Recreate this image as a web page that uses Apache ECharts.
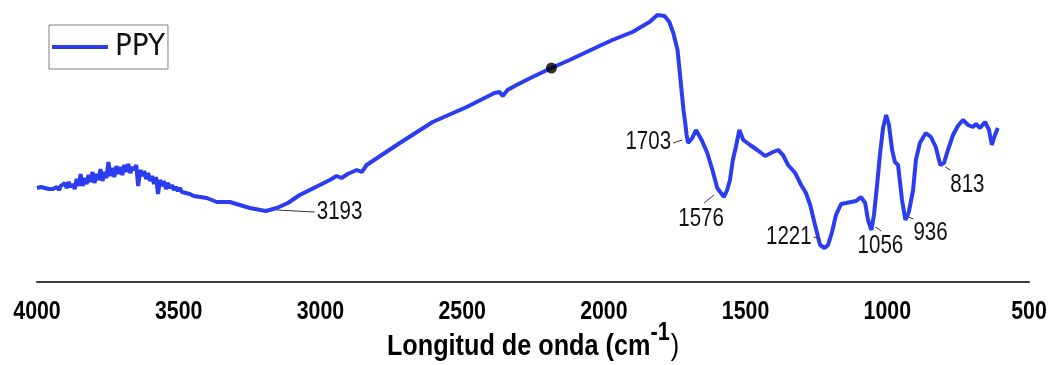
<!DOCTYPE html>
<html>
<head>
<meta charset="utf-8">
<script src="https://cdn.jsdelivr.net/npm/echarts@6/dist/echarts.min.js"></script>
<style>
html,body{margin:0;padding:0;background:#fff;}
#chart{width:1048px;height:365px;}
</style>
</head>
<body>
<div id="chart"></div>
<script>
// Wavenumber (cm-1) and transmittance (arbitrary %)
const wavenumbers = [4000,3993,3986,3979,3972,3965,3958,3951,3944,3937,3930,3923,3916,3909,3902,3895,3888,3881,3874,3867,3860,3853,3846,3839,3832,3825,3818,3811,3804,3797,3790,3783,3776,3769,3762,3755,3748,3741,3734,3727,3720,3713,3706,3699,3692,3685,3678,3671,3664,3657,3650,3643,3636,3629,3622,3615,3608,3601,3594,3587,3580,3573,3566,3559,3552,3545,3538,3531,3524,3517,3510,3503,3496,3489,3482,3475,3468,3461,3454,3447,3440,3401,3366,3320,3249,3193,3154,3115,3073,3002,2967,2943,2925,2904,2872,2854,2837,2720,2604,2484,2386,2368,2357,2340,2308,2252,2185,2121,2016,1970,1899,1839,1811,1786,1769,1755,1740,1733,1726,1719,1712,1708,1703,1688,1675,1655,1635,1617,1600,1576,1565,1555,1545,1535,1522,1508,1484,1459,1431,1403,1385,1368,1350,1325,1304,1287,1272,1255,1237,1221,1209,1195,1181,1163,1145,1128,1110,1093,1078,1068,1056,1047,1036,1026,1015,1004,994,983,973,962,948,936,924,909,899,885,864,846,829,813,800,786,768,751,733,715,698,687,673,655,641,631,620,610];
const transmittance = [47,46.5,47.5,46.5,47,46,46.5,45.5,46.5,45.5,47.5,46,48,47,49.5,47,50,47.5,49,46.5,51.5,48,54,48,52,49,53.5,50,55,49.5,54,51,56.5,50.5,55,52,60,53,57,52.5,58,54,57.5,53.5,58.5,55,59,54.5,57.5,56,58.5,48,56,53,55.5,51.5,54.5,50.5,53,49,52.5,44,51,48,50.5,46.5,49.5,47,48.5,46,47.5,45.5,47,45,46,44.5,45.5,44,44.5,43,43.5,42,40,40,37,35.5,37,39.5,43.5,48.5,51,53,52,54,56,55,58.5,69.5,80,87.5,94.5,95,93,96,98.5,102.5,107,111,118,121,125,130,133.5,133,130,124.5,116,106,96,86,78.5,73.5,69.5,72,76,71,64.5,56,47,42.5,46,51,61,67,76,71,68.5,66,63,65,66,63.5,58.5,54.5,48.5,44.5,38.5,28.5,18.5,17,18.5,25,33.5,39,39.5,40,40.5,42.5,39.5,31,26,33.5,48.5,63.5,77,83.5,78.5,66,60,58.5,41,31,35,46,61,69.5,74.5,72.5,67.5,58.5,59.5,66,73.5,78,81,78.5,77.5,79,77,80,76,68.5,73.5,77];
const peakLabels = [3193,1703,1576,1221,1056,936,813];
const markerPoint = [[2185,107]];
const xTicks = [4000,3500,3000,2500,2000,1500,1000,500];
const seriesName = 'PPY';
const axisTitle = ['Longitud de onda (cm', '-1', ')'];

const spectrum = wavenumbers.map((w,i)=>[w,transmittance[i]]);
const peakData = peakLabels.map(w=>[w, transmittance[wavenumbers.indexOf(w)]]);
const tickData = xTicks.map(v=>[v,0]);

// label placement relative to the peak (pixels): line [x1,y1,x2,y2], text [x,y,align]
const annotStyle = {
  3193:{line:[11,-1,49,1], text:[51,1,'left']},
  1703:{line:[-15,0,-6,-3], text:[-17,-1,'right']},
  1576:{line:[-20,6,-10,-2], text:[-23,22,'center']},
  1221:{line:[-11,-11,-5,-9], text:[-13,-11,'right']},
  1056:{line:[4,-3,10,1], text:[9,16,'center']},
  936:{line:[3,-3,8,-1], text:[8,13,'left']},
  813:{line:[5,2,10,5], text:[10,20,'left']}
};

const SANS = '"Liberation Sans", Arial, sans-serif';
const NX = 0.82; // horizontal squeeze to mimic a narrow face
const measure = (txt, font)=>{
  const c = document.createElement('canvas').getContext('2d');
  c.font = font; return c.measureText(txt).width;
};
const fMain = 'bold 29px ' + SANS, fSup = 'bold 25px ' + SANS, fPar = '29px ' + SANS;
const w1 = measure(axisTitle[0], fMain), w2 = measure(axisTitle[1], fSup), w3 = measure(axisTitle[2], fPar);
const TX = 0.87;
const gridL = 37, gridR = 19, W = 1048;
const titleLeft = (gridL + (W - gridR)) / 2 - (w1 + w2 + 1 + w3) * TX / 2;

const chart = echarts.init(document.getElementById('chart'), null, {renderer:'canvas'});
chart.setOption({
  backgroundColor:'#fff',
  animation:false,
  grid:{left:gridL, right:gridR, top:12, bottom:83, outerBoundsMode:'none', containLabel:false},
  legend:{
    data:[{name:seriesName, icon:'rect'}], left:49, top:25,
    borderColor:'#808080', borderWidth:1, borderRadius:0,
    padding:[4,3,4,3], itemWidth:56, itemHeight:4, itemGap:4,
    textStyle:{fontFamily:'"DejaVu Sans Condensed", sans-serif', fontSize:31, lineHeight:36, color:'#111', padding:[0,0,0,2]}
  },
  xAxis:{
    type:'value', inverse:true, min:500, max:4000, interval:500,
    axisLine:{show:true, lineStyle:{color:'#3a3a3a', width:2}},
    axisTick:{show:false}, splitLine:{show:false}, axisLabel:{show:false}
  },
  yAxis:{type:'value', min:0, max:135, show:false},
  graphic:[{
    type:'group', x:titleLeft, y:347, scaleX:TX, silent:true,
    children:[
      {type:'text', x:0, y:0, style:{text:axisTitle[0], font:fMain, fill:'#000', textVerticalAlign:'middle', textAlign:'left'}},
      {type:'text', x:w1, y:-14, style:{text:axisTitle[1], font:fSup, fill:'#000', textVerticalAlign:'middle', textAlign:'left'}},
      {type:'text', x:w1+w2+1, y:0, style:{text:axisTitle[2], font:fPar, fill:'#000', textVerticalAlign:'middle', textAlign:'left'}}
    ]
  }],
  series:[
    {name:seriesName, type:'line', data:spectrum, symbol:'none', smooth:false,
      lineStyle:{color:'#2a3df0', width:4}, itemStyle:{color:'#2a3df0'}, z:2},
    {type:'scatter', data:markerPoint, symbolSize:11, itemStyle:{color:'#000'}, z:3, silent:true},
    {type:'custom', data:peakData, z:4, silent:true, clip:false,
      renderItem:function(params, api){
        const w = api.value(0);
        const p = api.coord([w, api.value(1)]);
        const s = annotStyle[w];
        return {type:'group', children:[
          {type:'line', shape:{x1:p[0]+s.line[0], y1:p[1]+s.line[1], x2:p[0]+s.line[2], y2:p[1]+s.line[3]},
            style:{stroke:'#333', lineWidth:1}},
          {type:'text', x:p[0]+s.text[0], y:p[1]+s.text[1], scaleX:NX,
            style:{text:String(w), font:'25px '+SANS, fill:'#111', textAlign:s.text[2], textVerticalAlign:'middle'}}
        ]};
      }},
    {type:'custom', data:tickData, z:4, silent:true, clip:false,
      renderItem:function(params, api){
        const v = api.value(0);
        const p = api.coord([v, 0]);
        return {type:'text', x:p[0], y:p[1]+30, scaleX:NX,
          style:{text:String(v), font:'bold 26px '+SANS, fill:'#000', textAlign:'center', textVerticalAlign:'middle'}};
      }}
  ]
});
</script>
</body>
</html>
